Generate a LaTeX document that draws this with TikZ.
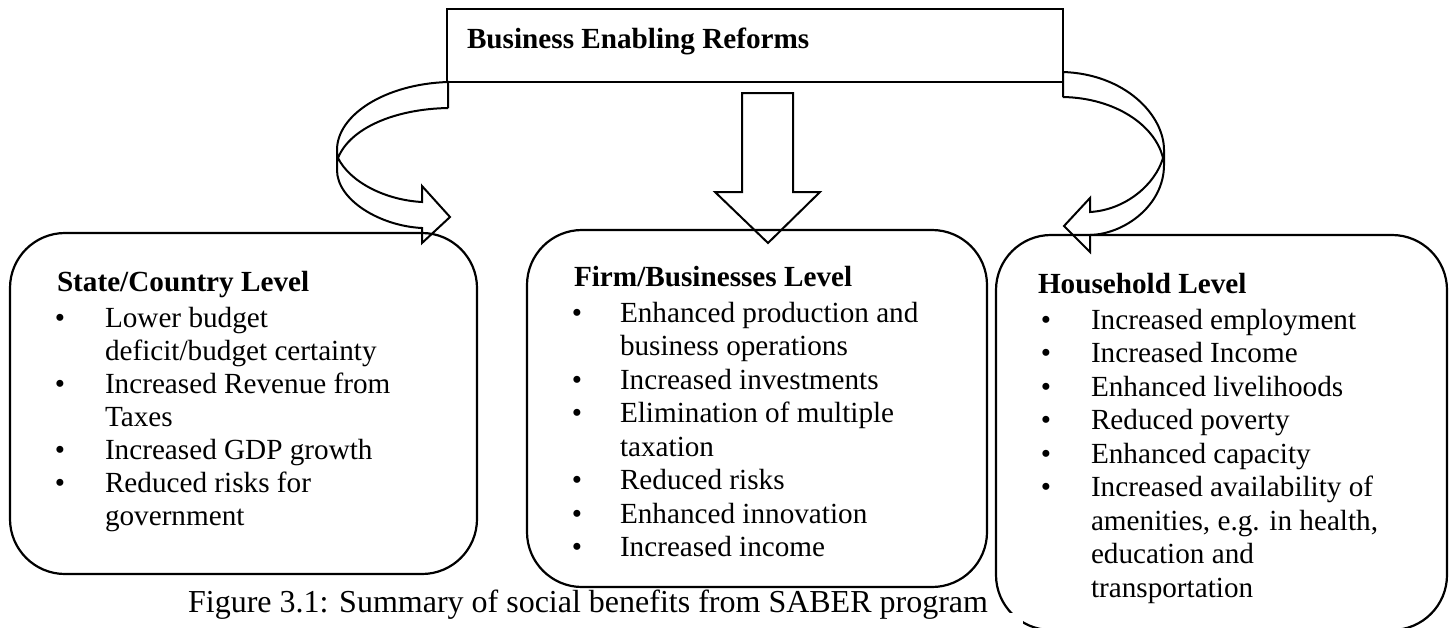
\documentclass[tikz,border=0pt]{standalone}
\usepackage{fontspec}
\setmainfont{Liberation Serif}
\begin{document}
\begin{tikzpicture}[x=1pt,y=-1pt,
  every node/.style={inner sep=0pt, outer sep=0pt},
  box/.style={draw, line width=2.2pt, rounded corners=55pt},
  lbl/.style={anchor=base west, font=\fontsize{29.2}{33.5}\selectfont},
  hdr/.style={anchor=base west, font=\fontsize{29.2}{33.5}\selectfont\bfseries},
  bul/.style={anchor=base, font=\fontsize{29.2}{33.5}\selectfont},
  shapeline/.style={line width=2pt, line join=miter}]
\useasboundingbox (0,0) rectangle (1455,627);
\clip (0,0) rectangle (1455,627);

% top box
\node[draw, line width=1.5pt, minimum width=616pt, minimum height=73pt] (top) at (755,45.5) {};
\node[hdr] (title) at (467,48) {Business Enabling Reforms};

% level boxes
\node[box, minimum width=467pt, minimum height=341pt] (lbox) at (243.5,403.5) {};
\node[box, minimum width=460pt, minimum height=357pt] (mbox) at (757,408.5) {};
\node[box, minimum width=451pt, minimum height=395pt] (rbox) at (1221.5,432.5) {};

% arrows
\draw[shapeline] (448,108) -- (448,82) .. controls (385,84) and (337,115) .. (337,150) -- (337,170) .. controls (337,200) and (380,226) .. (422,228) -- (422,243) -- (450,217) -- (422,186) -- (422,202) .. controls (385,200) and (350,182) .. (338,158) .. controls (350,128) and (395,109) .. (448,108);
\draw[shapeline] (1063,97) -- (1063,72) .. controls (1125,74) and (1164,115) .. (1164,150) -- (1164,165) .. controls (1164,205) and (1125,234) .. (1090,235) -- (1090,252) -- (1064,226) -- (1090,198) -- (1090,212) .. controls (1125,210) and (1155,185) .. (1163,158) .. controls (1155,125) and (1115,98) .. (1063,97);
\draw[shapeline] (742,93) -- (793,93) -- (793,192) -- (820,192) -- (768,243) -- (715,192) -- (742,192) -- cycle;

% left box text
\node[hdr] (lh) at (57,291) {State/Country Level};
\node[bul] (lb1) at (60,327) {•};
\node[lbl] (lt1) at (105,327) {Lower budget};
\node[lbl] (lt2) at (105,360) {deficit/budget certainty};
\node[bul] (lb3) at (60,393) {•};
\node[lbl] (lt3) at (105,393) {Increased Revenue from};
\node[lbl] (lt4) at (105,426) {Taxes};
\node[bul] (lb5) at (60,459) {•};
\node[lbl] (lt5) at (105,459) {Increased GDP growth};
\node[bul] (lb6) at (60,492) {•};
\node[lbl] (lt6) at (105,492) {Reduced risks for};
\node[lbl] (lt7) at (105,525) {government};

% middle box text
\node[hdr] (mh) at (574,286) {Firm/Businesses Level};
\node[bul] (mb1) at (577,322) {•};
\node[lbl] (mt1) at (620,322) {Enhanced production and};
\node[lbl] (mt2) at (620,355.5) {business operations};
\node[bul] (mb3) at (577,389) {•};
\node[lbl] (mt3) at (620,389) {Increased investments};
\node[bul] (mb4) at (577,422.5) {•};
\node[lbl] (mt4) at (620,422.5) {Elimination of multiple};
\node[lbl] (mt5) at (620,456) {taxation};
\node[bul] (mb6) at (577,489.5) {•};
\node[lbl] (mt6) at (620,489.5) {Reduced risks};
\node[bul] (mb7) at (577,523) {•};
\node[lbl] (mt7) at (620,523) {Enhanced innovation};
\node[bul] (mb8) at (577,556.5) {•};
\node[lbl] (mt8) at (620,556.5) {Increased income};

% right box text
\node[hdr] (rh) at (1038,293) {Household Level};
\node[bul] (rb1) at (1046,329) {•};
\node[lbl] (rt1) at (1091,329) {Increased employment};
\node[bul] (rb2) at (1046,362.5) {•};
\node[lbl] (rt2) at (1091,362.5) {Increased Income};
\node[bul] (rb3) at (1046,396) {•};
\node[lbl] (rt3) at (1091,396) {Enhanced livelihoods};
\node[bul] (rb4) at (1046,429.5) {•};
\node[lbl] (rt4) at (1091,429.5) {Reduced poverty};
\node[bul] (rb5) at (1046,463) {•};
\node[lbl] (rt5) at (1091,463) {Enhanced capacity};
\node[bul] (rb6) at (1046,496.5) {•};
\node[lbl] (rt6) at (1091,496.5) {Increased availability of};
\node[lbl] (rt7) at (1091,530) {amenities, e.g. in health,};
\node[lbl] (rt8) at (1091,563.5) {education and};
\node[lbl] (rt9) at (1091,597) {transportation};

% caption
\fill[white] (150,613) rectangle (1023,640);
\node[anchor=base east, font=\fontsize{32}{36}\selectfont] (cap) at (988,612) {Figure 3.1: Summary of social benefits from SABER program};
\end{tikzpicture}
\end{document}
